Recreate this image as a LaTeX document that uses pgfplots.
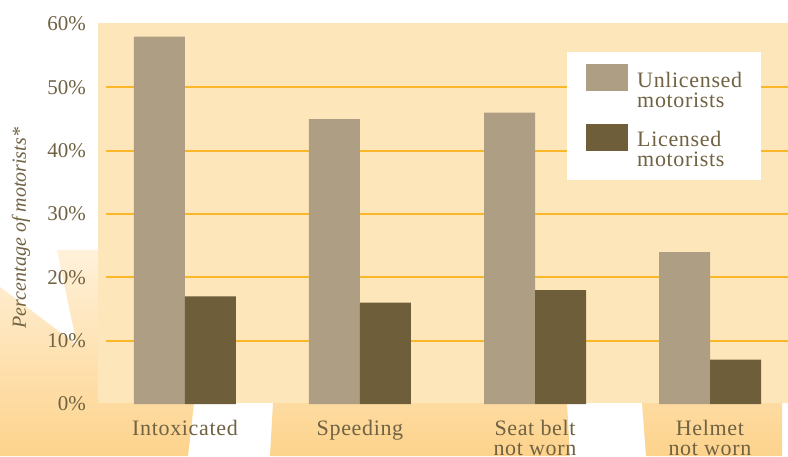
\documentclass[border=0pt]{standalone}
\usepackage{fontspec}
\setmainfont{Liberation Serif}
\usepackage{pgfplots}
\pgfplotsset{compat=1.18}
\definecolor{plotbg}{RGB}{254,230,187}
\definecolor{gridorange}{RGB}{250,183,42}
\definecolor{unlic}{RGB}{174,158,132}
\definecolor{lic}{RGB}{110,94,58}
\definecolor{textbrown}{RGB}{112,98,66}
\definecolor{decotop}{RGB}{255,241,218}
\definecolor{decobot}{RGB}{253,211,140}
\newfontfamily\spaced{Liberation Serif}[LetterSpace=3]
\begin{document}
\begin{tikzpicture}[x=1pt,y=1pt]
\useasboundingbox (0,0) rectangle (788,456);
\fill[white] (0,0) rectangle (788,456);
\shade[top color=decotop, bottom color=decobot]
  (0,169) -- (77,111) -- (57,206) -- (98,206) -- (98,53) -- (194,53) -- (188,0) -- (0,0) -- cycle
  (273,53) -- (567,53) -- (570,0) -- (270,0) -- cycle
  (642,53) -- (782,53) -- (782,0) -- (646,0) -- cycle;
\fill[plotbg] (98,53) rectangle (788,433);
\begin{axis}[
  at={(106pt,52pt)}, anchor=south west,
  scale only axis, width=682pt, height=380pt,
  xmin=-0.4514, xmax=3.4457, ymin=0, ymax=60,
  ybar=0pt, bar width=51pt,
  axis line style={draw=none}, tick style={draw=none}, major tick length=0pt,
  ytick={10,20,30,40,50}, extra y ticks={0,60}, extra y tick style={grid=none},
  ymajorgrids, major grid style={line width=2pt, gridorange},
  yticklabel={\pgfmathprintnumber{\tick}\%},
  /pgf/number format/assume math mode=true,
  yticklabel style={anchor=east, inner sep=0pt, xshift=-20pt, font=\fontsize{21}{21}\selectfont, text=textbrown},
  xtick={0,1,2,3},
  xticklabels={Intoxicated, Speeding, {Seat belt\\not worn}, {Helmet\\not worn}},
  xticklabel style={anchor=north, align=center, inner sep=0pt, yshift=-16pt, font=\spaced\fontsize{22}{20}\selectfont, text=textbrown},
  ylabel={\itshape Percentage of motorists*},
  every axis y label/.style={at={(axis description cs:-0.1246,0.463)}, rotate=90, anchor=center, font=\fontsize{20}{20}\selectfont, text=textbrown},
  legend cell align=left,
  legend image code/.code={\fill[#1] (0pt,-1pt) rectangle (42pt,26pt);},
  legend style={at={(axis description cs:0.676,0.926)}, anchor=north west, draw=none, fill=white,
    inner xsep=19pt, inner ysep=12pt, column sep=9pt, row sep=15pt,
    font=\spaced\fontsize{22}{20}\selectfont, text=textbrown,
    nodes={align=left, inner sep=0pt}},
]
\addplot[fill=unlic, draw=none] coordinates {(0,58) (1,45) (2,46) (3,24)};
\addplot[fill=lic, draw=none] coordinates {(0,17) (1,16) (2,18) (3,7)};
\legend{{Unlicensed\\motorists}, {Licensed\\motorists}}
\end{axis}
\end{tikzpicture}
\end{document}
